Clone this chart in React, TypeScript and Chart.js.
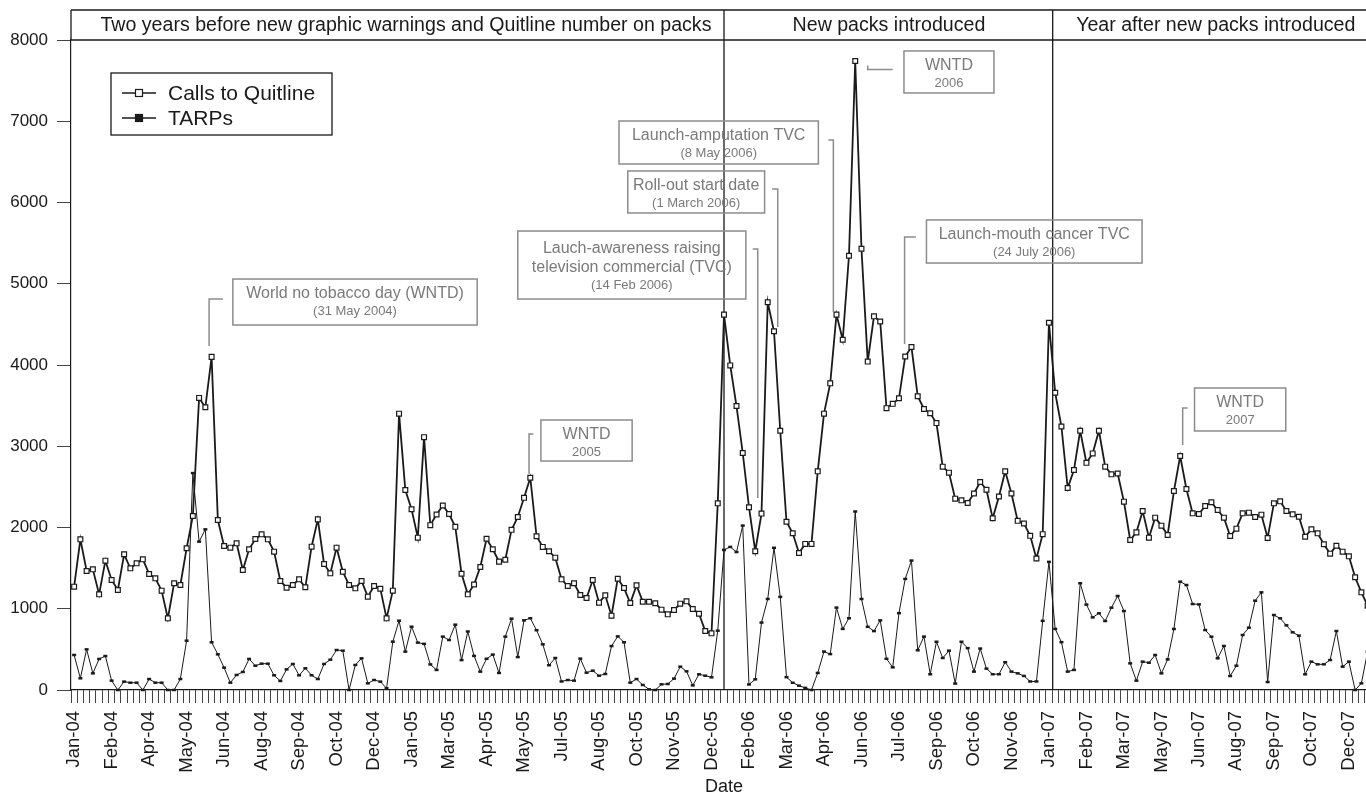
import React, { useEffect, useRef } from 'react';
import { Chart, registerables } from 'chart.js';

Chart.register(...registerables);

const FONT = "'Liberation Sans', Arial, Helvetica, sans-serif";
const INK = '#1a1a1a';
const NOTE_TEXT = '#7a7a7a';
const NOTE_LINE = '#8c8c8c';

// Weekly categories (Jan 2004 - Dec 2007)
const weeks: string[] = Array.from({ length: 209 }, (_, i) => `Week ${i + 1}`);

// Month labels shown on every 6th week
const monthTicks = [
  'Jan-04', 'Feb-04', 'Apr-04', 'May-04', 'Jun-04', 'Aug-04', 'Sep-04', 'Oct-04', 'Dec-04',
  'Jan-05', 'Mar-05', 'Apr-05', 'May-05', 'Jul-05', 'Aug-05', 'Oct-05', 'Nov-05', 'Dec-05',
  'Feb-06', 'Mar-06', 'Apr-06', 'Jun-06', 'Jul-06', 'Sep-06', 'Oct-06', 'Nov-06',
  'Jan-07', 'Feb-07', 'Mar-07', 'May-07', 'Jun-07', 'Aug-07', 'Sep-07', 'Oct-07', 'Dec-07',
];

const callsToQuitline = [
  1272, 1854, 1465, 1485, 1177, 1592, 1354, 1231, 1670, 1497,
  1559, 1608, 1428, 1374, 1223, 882, 1313, 1292, 1744, 2142,
  3595, 3480, 4100, 2092, 1772, 1752, 1805, 1477, 1731, 1858,
  1916, 1854, 1703, 1342, 1259, 1292, 1362, 1264, 1764, 2100,
  1551, 1436, 1752, 1456, 1292, 1251, 1342, 1149, 1280, 1247,
  882, 1223, 3401, 2462, 2224, 1875, 3112, 2029, 2160, 2271,
  2166, 2008, 1430, 1177, 1298, 1514, 1861, 1732, 1580, 1603,
  1971, 2129, 2365, 2612, 1892, 1761, 1708, 1629, 1362, 1280,
  1313, 1169, 1132, 1354, 1075, 1165, 915, 1370, 1255, 1071,
  1288, 1087, 1087, 1067, 989, 931, 985, 1063, 1091, 997,
  939, 726, 697, 2297, 4620, 3995, 3495, 2917, 2250, 1708,
  2171, 4773, 4415, 3191, 2071, 1929, 1687, 1798, 1798, 2691,
  3401, 3774, 4620, 4310, 5345, 7742, 5430, 4042, 4599, 4536,
  3469, 3522, 3590, 4105, 4221, 3616, 3459, 3406, 3285, 2749,
  2675, 2355, 2334, 2302, 2418, 2560, 2465, 2113, 2381, 2691,
  2418, 2082, 2050, 1897, 1619, 1918, 4520, 3658, 3243, 2486,
  2707, 3191, 2796, 2912, 3191, 2749, 2654, 2665, 2318, 1846,
  1940, 2203, 1875, 2121, 2023, 1908, 2449, 2880, 2474, 2174,
  2166, 2265, 2310, 2215, 2121, 1895, 1986, 2174, 2183, 2129,
  2158, 1871, 2297, 2322, 2203, 2162, 2133, 1887, 1977, 1928,
  1793, 1678, 1776, 1703, 1645, 1387, 1202, 1038,
];

const tarps = [
  431, 144, 500, 205, 382, 418, 115, 0, 103, 90,
  90, 0, 135, 90, 90, 0, 0, 135, 607, 2670,
  1826, 1977, 587, 439, 275, 90, 185, 222, 382, 299,
  324, 324, 181, 111, 254, 320, 181, 267, 181, 135,
  320, 373, 492, 484, 0, 308, 390, 82, 123, 103,
  21, 595, 853, 472, 779, 583, 568, 315, 247, 657,
  615, 804, 368, 720, 420, 226, 384, 436, 210, 657,
  878, 405, 857, 883, 736, 562, 305, 394, 105, 123,
  115, 386, 213, 238, 176, 197, 541, 660, 587, 90,
  135, 62, 8, 0, 70, 74, 140, 287, 230, 57,
  193, 176, 156, 730, 1724, 1761, 1698, 2024, 68, 131,
  830, 1120, 1750, 1146, 158, 89, 53, 26, 0, 210,
  473, 442, 1014, 752, 883, 2197, 1120, 778, 725, 857,
  384, 279, 946, 1367, 1593, 489, 657, 194, 594, 394,
  484, 79, 594, 515, 226, 510, 263, 194, 194, 342,
  226, 205, 173, 105, 105, 851, 1577, 752, 589, 226,
  247, 1314, 1051, 894, 944, 849, 1013, 1157, 972, 328,
  115, 349, 336, 431, 205, 377, 751, 1333, 1292, 1058,
  1054, 738, 656, 390, 542, 172, 299, 677, 767, 1099,
  1202, 98, 923, 882, 796, 710, 669, 193, 349, 316,
  316, 369, 726, 287, 349, 0, 82, 472,
];

const yTicks = [0, 1000, 2000, 3000, 4000, 5000, 6000, 7000, 8000];

const sectionTitles = [
  'Two years before new graphic warnings and Quitline number on packs',
  'New packs introduced',
  'Year after new packs introduced',
];
// week positions (category units) of title centres and of section dividers
const sectionTitleAt = [53.1, 130.4, 182.7];
const sectionBreaks = [104.0, 156.6];

type Note = {
  lines: string[];
  bx: [number, number]; // week units
  by: [number, number]; // value units (top, bottom)
  leader: [number, number][];
};

const notes: Note[] = [
  { lines: ['World no tobacco day (WNTD)', '(31 May 2004)'], bx: [25.4, 64.5], by: [5058, 4492],
    leader: [[21.6, 4234], [21.6, 4812], [23.8, 4812]] },
  { lines: ['WNTD', '2005'], bx: [74.7, 89.3], by: [3323, 2818],
    leader: [[72.8, 2658], [72.8, 3151], [73.5, 3151]] },
  { lines: ['Lauch-awareness raising', 'television commercial (TVC)', '(14 Feb 2006)'], bx: [71.0, 107.5], by: [5649, 4812],
    leader: [[108.6, 5428], [109.4, 5428], [109.4, 2363]] },
  { lines: ['Roll-out start date', '(1 March 2006)'], bx: [88.6, 110.5], by: [6388, 5871],
    leader: [[111.7, 6166], [112.6, 6166], [112.6, 4468]] },
  { lines: ['Launch-amputation TVC', '(8 May 2006)'], bx: [87.2, 119.1], by: [7003, 6474],
    leader: [[120.7, 6769], [121.5, 6769], [121.5, 4652]] },
  { lines: ['WNTD', '2006'], bx: [132.8, 147.2], by: [7865, 7348],
    leader: [[127.0, 7685], [127.0, 7637], [131.0, 7637]] },
  { lines: ['Launch-mouth cancer TVC', '(24 July 2006)'], bx: [136.4, 170.9], by: [5785, 5255],
    leader: [[134.7, 5575], [132.9, 5575], [132.9, 4258]] },
  { lines: ['WNTD', '2007'], bx: [179.3, 193.9], by: [3717, 3188],
    leader: [[177.4, 3015], [177.4, 3471], [178.2, 3471]] },
];

const decorPlugin = {
  id: 'decor',
  beforeDatasetsDraw(chart: any) {
    const { ctx, chartArea: ca, scales } = chart;
    const x = scales.x;
    const topY = ca.top - 30;
    ctx.save();
    ctx.strokeStyle = INK;
    ctx.lineWidth = 1.3;
    ctx.beginPath();
    ctx.moveTo(ca.left, topY);
    ctx.lineTo(ca.right, topY);
    ctx.moveTo(ca.left, ca.top);
    ctx.lineTo(ca.right, ca.top);
    ctx.moveTo(ca.left, topY);
    ctx.lineTo(ca.left, ca.top);
    for (const s of sectionBreaks) {
      const px = x.getPixelForValue(s);
      ctx.moveTo(px, topY);
      ctx.lineTo(px, ca.bottom);
    }
    ctx.stroke();
    ctx.fillStyle = INK;
    ctx.font = `19.6px ${FONT}`;
    ctx.textAlign = 'center';
    ctx.textBaseline = 'middle';
    sectionTitles.forEach((t, k) => ctx.fillText(t, x.getPixelForValue(sectionTitleAt[k]), ca.top - 14));
    ctx.restore();
  },
  afterDatasetsDraw(chart: any) {
    const { ctx, chartArea: ca, scales } = chart;
    const x = scales.x;
    const y = scales.y;
    ctx.save();
    // annotations
    for (const n of notes) {
      const L = x.getPixelForValue(n.bx[0]);
      const R = x.getPixelForValue(n.bx[1]);
      const T = y.getPixelForValue(n.by[0]);
      const B = y.getPixelForValue(n.by[1]);
      ctx.strokeStyle = NOTE_LINE;
      ctx.lineWidth = 1.5;
      ctx.strokeRect(L, T, R - L, B - T);
      ctx.beginPath();
      n.leader.forEach(([i, v], k) => {
        const px = x.getPixelForValue(i);
        const py = y.getPixelForValue(v);
        if (k === 0) ctx.moveTo(px, py);
        else ctx.lineTo(px, py);
      });
      ctx.stroke();
      const offs = n.lines.length === 3 ? [18, 37, 54] : [15, 32];
      ctx.fillStyle = NOTE_TEXT;
      ctx.textAlign = 'center';
      ctx.textBaseline = 'middle';
      n.lines.forEach((t, k) => {
        const last = k === n.lines.length - 1;
        ctx.font = `${last ? 13 : 16}px ${FONT}`;
        ctx.fillText(t, (L + R) / 2, T + offs[k]);
      });
    }
    // legend
    const lx = ca.left + 40;
    const ly = ca.top + 33;
    ctx.strokeStyle = INK;
    ctx.lineWidth = 1.3;
    ctx.strokeRect(lx, ly, 221, 62);
    const rows = [ly + 20, ly + 45];
    chart.data.datasets.forEach((ds: any, k: number) => {
      const ry = rows[k];
      ctx.strokeStyle = INK;
      ctx.lineWidth = 1.4;
      ctx.beginPath();
      ctx.moveTo(lx + 11, ry);
      ctx.lineTo(lx + 45, ry);
      ctx.stroke();
      ctx.fillStyle = k === 0 ? '#ffffff' : INK;
      ctx.fillRect(lx + 24.5, ry - 3.5, 7, 7);
      ctx.lineWidth = 1.2;
      ctx.strokeRect(lx + 24.5, ry - 3.5, 7, 7);
      ctx.fillStyle = INK;
      ctx.font = `21px ${FONT}`;
      ctx.textAlign = 'left';
      ctx.textBaseline = 'middle';
      ctx.fillText(ds.label, lx + 57, ry + 1);
    });
    ctx.restore();
  },
};

export default function App() {
  const canvasRef = useRef<HTMLCanvasElement | null>(null);

  useEffect(() => {
    const canvas = canvasRef.current;
    if (!canvas) return;
    const chart = new Chart(canvas, {
      type: 'line',
      data: {
        labels: weeks,
        datasets: [
          {
            label: 'Calls to Quitline',
            data: callsToQuitline,
            borderColor: INK,
            borderWidth: 1.8,
            pointStyle: 'rect',
            pointRadius: 3.4,
            pointBackgroundColor: '#ffffff',
            pointBorderColor: INK,
            pointBorderWidth: 1.2,
            tension: 0,
            clip: false,
          } as any,
          {
            label: 'TARPs',
            data: tarps,
            borderColor: INK,
            borderWidth: 1,
            pointStyle: 'line',
            pointRadius: 2,
            pointBorderWidth: 2.5,
            pointBorderColor: INK,
            pointBackgroundColor: INK,
            tension: 0,
            clip: false,
          } as any,
        ],
      },
      options: {
        animation: false,
        responsive: false,
        devicePixelRatio: 1,
        events: [],
        layout: { padding: { top: 40, left: 0, right: 30, bottom: 0 } },
        plugins: {
          legend: { display: false },
          tooltip: { enabled: false },
        },
        scales: {
          x: {
            type: 'category',
            offset: true,
            grid: {
              offset: true,
              drawOnChartArea: false,
              drawTicks: true,
              tickLength: 13,
              color: '#444',
              lineWidth: 1,
            },
            border: { display: true, color: INK, width: 1.2 },
            ticks: {
              autoSkip: false,
              minRotation: 90,
              maxRotation: 90,
              padding: 8,
              color: INK,
              font: { family: FONT, size: 18.5 },
              callback: (_v: any, i: number) => (i % 6 === 0 ? monthTicks[i / 6] ?? '' : ''),
            },
            title: {
              display: true,
              text: 'Date',
              color: INK,
              font: { family: FONT, size: 18 },
              padding: { top: 0, bottom: 5 },
            },
            afterFit: (s: any) => {
              s.height = 113;
            },
          } as any,
          y: {
            min: yTicks[0],
            max: yTicks[yTicks.length - 1],
            grid: { drawOnChartArea: false, drawTicks: true, tickLength: 14, color: '#444' },
            border: { display: true, color: INK, width: 1.2 },
            ticks: {
              stepSize: yTicks[1] - yTicks[0],
              padding: 9,
              color: INK,
              font: { family: FONT, size: 17 },
              callback: (v: any) => String(v),
            },
            afterFit: (s: any) => {
              s.width = 71;
            },
          } as any,
        },
      },
      plugins: [decorPlugin],
    });
    return () => chart.destroy();
  }, []);

  return (
    <div style={{ position: 'absolute', left: 0, top: 0, width: 1366, height: 803, overflow: 'hidden', background: '#fff' }}>
      <canvas ref={canvasRef} width={1407} height={803} style={{ display: 'block', width: 1407, height: 803 }} />
    </div>
  );
}
